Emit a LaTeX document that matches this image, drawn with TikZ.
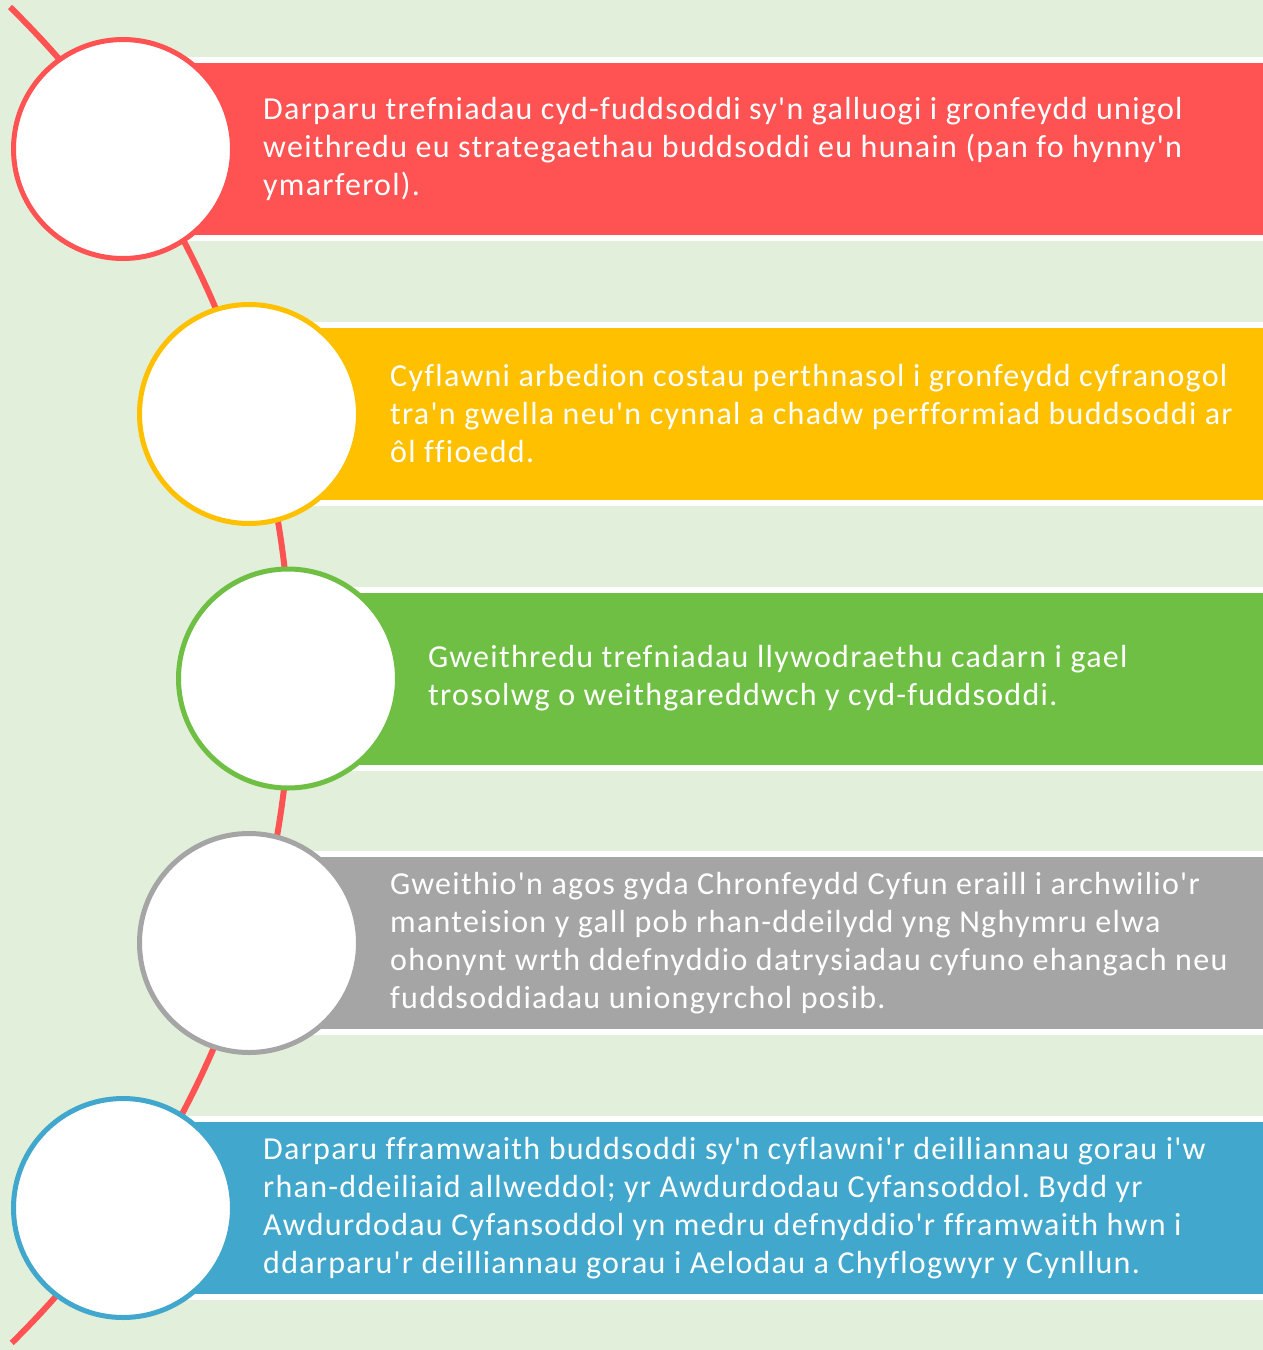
\documentclass[tikz,border=0pt]{standalone}
\usepackage{fontspec}
\newfontfamily\barfont{Carlito}[Ligatures={TeXOff,NoCommon},LetterSpace=4]
\definecolor{bgc}{HTML}{E2EFDA}
\definecolor{cred}{HTML}{FF5252}
\definecolor{cyel}{HTML}{FFC000}
\definecolor{cgrn}{HTML}{6EBF43}
\definecolor{cgry}{HTML}{A5A5A5}
\definecolor{cblu}{HTML}{41A7CD}
\frenchspacing
\begin{document}
\begin{tikzpicture}[x=1pt,y=1pt,
  barbox/.style={rectangle, draw=white, line width=6pt, minimum height=178pt, inner sep=0pt, anchor=west},
  ring/.style={circle, fill=white, line width=5pt, minimum size=219pt, inner sep=0pt},
  bartext/.style={anchor=west, align=left, inner sep=0pt, text=white, font=\barfont\fontsize{32}{38}\selectfont}]
\fill[bgc] (0,0) rectangle (1263,-1350);
\useasboundingbox (0,0) rectangle (1263,-1350);
% timeline arc
\draw[cred, line width=6pt] (10,-7) arc[start angle=45.55, end angle=-45.4, radius=937pt];
% bars
\node[barbox, fill=cred, minimum width=1140pt] (b1) at (123,-149) {};
\node[barbox, fill=cyel, minimum width=1014pt] (b2) at (249,-414) {};
\node[barbox, fill=cgrn, minimum width=975pt] (b3) at (288,-678.5) {};
\node[barbox, fill=cgry, minimum width=1014pt] (b4) at (249,-943) {};
\node[barbox, fill=cblu, minimum width=1140pt] (b5) at (123,-1208) {};
% circles
\node[ring, draw=cred] (c1) at (123,-149) {};
\node[ring, draw=cyel] (c2) at (249,-414) {};
\node[ring, draw=cgrn] (c3) at (288,-678.5) {};
\node[ring, draw=cgry] (c4) at (249,-943) {};
\node[ring, draw=cblu] (c5) at (123,-1208) {};
% texts
\node[bartext] (t1) at (263,-149) {Darparu trefniadau cyd-fuddsoddi sy'n galluogi i gronfeydd unigol\\weithredu eu strategaethau buddsoddi eu hunain (pan fo hynny'n\\ymarferol).};
\node[bartext] (t2) at (390,-414) {Cyflawni arbedion costau perthnasol i gronfeydd cyfranogol\\tra'n gwella neu'n cynnal a chadw perfformiad buddsoddi ar\\ôl ffioedd.};
\node[bartext] (t3) at (428,-678.5) {Gweithredu trefniadau llywodraethu cadarn i gael\\trosolwg o weithgareddwch y cyd-fuddsoddi.};
\node[bartext] (t4) at (390,-943) {Gweithio'n agos gyda Chronfeydd Cyfun eraill i archwilio'r\\manteision y gall pob rhan-ddeilydd yng Nghymru elwa\\ohonynt wrth ddefnyddio datrysiadau cyfuno ehangach neu\\fuddsoddiadau uniongyrchol posib.};
\node[bartext] (t5) at (263,-1208) {Darparu fframwaith buddsoddi sy'n cyflawni'r deilliannau gorau i'w\\rhan-ddeiliaid allweddol; yr Awdurdodau Cyfansoddol. Bydd yr\\Awdurdodau Cyfansoddol yn medru defnyddio'r fframwaith hwn i\\ddarparu'r deilliannau gorau i Aelodau a Chyflogwyr y Cynllun.};
\end{tikzpicture}
\end{document}
